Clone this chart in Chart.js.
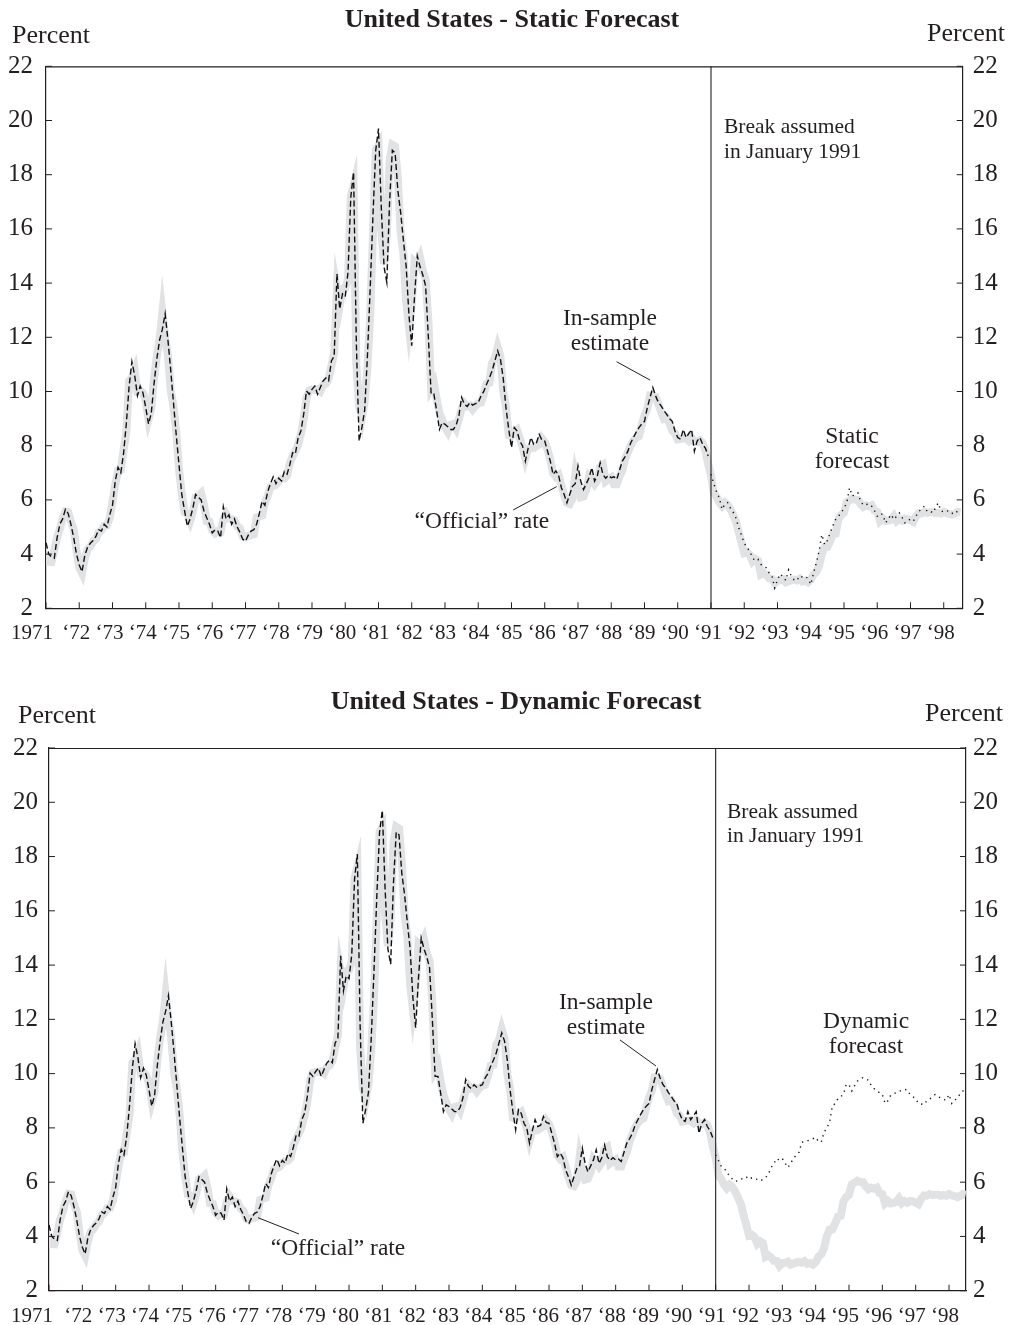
<!DOCTYPE html>
<html>
<head>
<meta charset="utf-8">
<title>United States - Static and Dynamic Forecast</title>
<script src="https://cdn.jsdelivr.net/npm/chart.js@4.4.0/dist/chart.umd.min.js"></script>
<style>
  html, body { margin: 0; padding: 0; background: #ffffff; }
  #wrap { position: relative; width: 1011px; height: 1325px; }
  .panel { position: absolute; left: 0; width: 1011px; }
  canvas { display: block; }
</style>
</head>
<body>
<div id="wrap">
  <div class="panel" style="top:0;height:655px"><canvas id="staticChart" width="1011" height="655"></canvas></div>
  <div class="panel" style="top:655px;height:670px"><canvas id="dynamicChart" width="1011" height="670"></canvas></div>
</div>
<script>
// Monthly series, January 1971 onward (one value per month).
const START_YEAR = 1971;

// "Official" rate, Jan 1971 - Jul 1998
const officialRate = [
  4.00, 3.72, 3.71, 4.15, 4.63, 4.91, 5.31, 5.57, 5.55, 5.20, 4.91, 4.14,
  3.50, 3.29, 3.83, 4.17, 4.27, 4.46, 4.55, 4.80, 4.87, 5.04, 5.06, 5.33,
  5.94, 6.58, 7.09, 7.12, 7.84, 8.49, 10.40, 10.50, 10.78, 10.01, 10.03, 9.95,
  9.65, 8.97, 9.35, 10.51, 11.31, 11.93, 12.92, 12.01, 11.34, 10.06, 9.45, 8.53,
  7.13, 6.24, 5.54, 5.49, 5.22, 5.55, 6.10, 6.14, 6.24, 5.82, 5.22, 5.20,
  4.87, 4.77, 4.84, 4.82, 5.29, 5.48, 5.31, 5.29, 5.25, 5.02, 4.95, 4.65,
  4.61, 4.68, 4.69, 4.73, 5.35, 5.39, 5.42, 5.90, 6.14, 6.47, 6.51, 6.56,
  6.70, 6.78, 6.79, 6.89, 7.36, 7.60, 7.81, 8.04, 8.45, 8.96, 9.76, 10.03,
  10.07, 10.06, 10.09, 10.01, 10.24, 10.29, 10.47, 10.94, 11.43, 13.77, 13.18, 13.78,
  13.82, 14.13, 17.19, 17.61, 10.98, 9.47, 9.03, 9.61, 10.87, 12.81, 15.85, 18.90,
  19.08, 15.93, 14.70, 15.72, 18.52, 19.10, 19.04, 17.82, 15.87, 15.08, 13.31, 12.37,
  13.22, 14.78, 14.68, 14.94, 14.45, 14.15, 12.59, 10.12, 10.31, 9.71, 9.20, 8.95,
  8.68, 8.51, 8.77, 8.80, 8.63, 8.98, 9.37, 9.56, 9.45, 9.48, 9.34, 9.47,
  9.56, 9.59, 9.91, 10.29, 10.32, 11.06, 11.23, 11.64, 11.30, 9.99, 9.43, 8.38,
  8.35, 8.50, 8.58, 8.27, 7.97, 7.53, 7.88, 7.90, 7.92, 7.99, 8.05, 8.27,
  8.14, 7.86, 7.48, 6.99, 6.85, 6.92, 6.56, 6.17, 5.89, 5.85, 6.04, 6.91,
  6.43, 6.10, 6.13, 6.37, 6.85, 6.73, 6.58, 6.73, 7.22, 7.29, 6.69, 6.77,
  6.83, 6.58, 6.58, 6.87, 7.09, 7.51, 7.75, 8.01, 8.19, 8.30, 8.35, 8.76,
  9.12, 9.36, 9.85, 9.84, 9.81, 9.53, 9.24, 8.99, 9.02, 8.84, 8.55, 8.45,
  8.23, 8.24, 8.28, 8.26, 8.18, 8.29, 8.15, 8.13, 8.20, 8.11, 7.81, 7.31,
  6.91, 6.25, 6.12, 5.91, 5.78, 5.90, 5.82, 5.66, 5.45, 5.21, 4.81, 4.43,
  4.03, 4.06, 3.98, 3.73, 3.82, 3.76, 3.25, 3.30, 3.22, 3.10, 3.09, 2.92,
  3.02, 3.03, 3.07, 2.96, 3.00, 3.04, 3.06, 3.03, 3.09, 2.99, 3.02, 2.96,
  3.05, 3.25, 3.34, 3.56, 4.01, 4.25, 4.26, 4.47, 4.73, 4.76, 5.29, 5.45,
  5.53, 5.92, 5.98, 6.05, 6.01, 6.00, 5.85, 5.74, 5.80, 5.76, 5.80, 5.60,
  5.56, 5.22, 5.31, 5.22, 5.24, 5.27, 5.40, 5.22, 5.30, 5.24, 5.31, 5.29,
  5.25, 5.19, 5.39, 5.51, 5.50, 5.56, 5.52, 5.54, 5.54, 5.50, 5.52, 5.50,
  5.56, 5.51, 5.49, 5.45, 5.49, 5.56, 5.54
];

// In-sample estimate, Jan 1971 - Dec 1990
const inSampleEstimate = [
  4.42, 4.00, 3.90, 3.85, 4.60, 5.10, 5.30, 5.65, 5.50, 5.10, 4.60, 4.00,
  3.60, 3.35, 3.95, 4.25, 4.40, 4.50, 4.65, 4.90, 4.85, 5.10, 5.00, 5.45,
  5.80, 6.70, 7.20, 7.00, 7.72, 8.83, 10.20, 11.10, 10.60, 9.85, 10.20, 9.95,
  9.40, 8.80, 9.20, 10.30, 11.20, 11.90, 12.30, 12.87, 11.90, 10.80, 9.60, 8.40,
  7.30, 6.20, 5.60, 5.03, 5.30, 5.70, 6.20, 6.10, 6.00, 5.60, 5.34, 5.10,
  4.78, 4.90, 4.85, 4.60, 5.75, 5.30, 5.45, 5.10, 5.30, 5.00, 4.80, 4.55,
  4.48, 4.70, 4.85, 4.90, 5.10, 5.50, 5.95, 5.80, 6.30, 6.60, 6.85, 6.60,
  6.80, 6.70, 7.05, 6.95, 7.30, 7.74, 7.70, 8.30, 8.54, 9.16, 10.02, 9.90,
  10.08, 10.20, 9.90, 10.15, 10.39, 10.50, 10.40, 11.13, 11.30, 14.34, 13.05, 13.60,
  13.50, 14.40, 17.17, 18.09, 11.80, 8.17, 8.67, 9.30, 11.30, 13.80, 16.50, 18.90,
  19.70, 16.80, 14.60, 14.03, 17.00, 18.90, 18.80, 17.40, 16.60, 15.57, 14.60, 12.80,
  11.69, 13.50, 15.00, 14.60, 14.30, 13.90, 12.00, 9.90, 9.90, 9.28, 8.60, 8.85,
  8.79, 8.70, 8.60, 8.60, 8.75, 9.10, 9.78, 9.53, 9.45, 9.59, 9.50, 9.55,
  9.59, 9.84, 10.00, 10.27, 10.50, 10.76, 11.13, 11.50, 11.20, 10.50, 9.40, 8.60,
  7.93, 8.67, 8.54, 8.17, 7.99, 7.43, 7.90, 8.30, 8.05, 8.10, 8.42, 8.20,
  8.17, 7.80, 7.43, 6.94, 7.07, 6.90, 6.45, 6.20, 5.89, 6.20, 6.50, 6.60,
  7.25, 6.69, 6.38, 6.60, 6.82, 7.19, 6.69, 6.90, 7.37, 6.94, 6.80, 6.90,
  6.82, 6.85, 6.76, 7.10, 7.43, 7.60, 7.80, 8.10, 8.30, 8.50, 8.67, 8.80,
  8.90, 9.40, 9.78, 10.15, 9.84, 9.60, 9.47, 9.30, 9.16, 9.00, 8.90, 8.54,
  8.30, 8.24, 8.60, 8.30, 8.45, 8.60, 7.80, 8.17, 8.30, 8.05, 7.90, 7.62
];

// Static forecast, Jan 1991 - Jul 1998
const staticForecast = [
  6.95, 6.60, 6.30, 6.07, 5.65, 5.85, 5.90, 5.70, 5.55, 5.33, 4.97, 4.70,
  4.40, 4.25, 4.10, 3.86, 3.75, 3.80, 3.62, 3.55, 3.49, 3.30, 3.20, 2.75,
  3.05, 3.27, 3.15, 3.03, 3.42, 3.18, 3.05, 3.02, 3.20, 3.15, 3.18, 3.10,
  2.88, 3.30, 3.67, 4.10, 4.72, 4.35, 4.50, 4.78, 5.05, 5.28, 5.40, 5.52,
  5.70, 5.89, 6.45, 6.14, 6.20, 6.26, 5.95, 5.80, 5.83, 5.85, 5.77, 5.60,
  5.40, 5.50, 5.46, 5.15, 5.30, 5.46, 5.28, 5.40, 5.52, 5.35, 5.15, 5.25,
  5.28, 5.21, 5.40, 5.58, 5.65, 5.77, 5.58, 5.60, 5.52, 5.70, 5.89, 5.60,
  5.55, 5.60, 5.58, 5.50, 5.60, 5.55, 5.50
];

// Dynamic forecast, Jan 1991 - Jul 1998
const dynamicForecast = [
  7.00, 6.80, 6.59, 6.50, 6.40, 6.20, 6.12, 6.03, 6.05, 6.10, 6.15, 6.20,
  6.10, 6.16, 6.12, 6.10, 6.05, 6.10, 6.17, 6.30, 6.54, 6.70, 6.87, 6.80,
  6.87, 6.70, 6.54, 6.70, 6.87, 7.00, 7.10, 7.47, 7.50, 7.52, 7.57, 7.60,
  7.65, 7.50, 7.47, 7.83, 8.00, 8.20, 8.80, 8.90, 9.08, 9.15, 9.23, 9.60,
  9.60, 9.36, 9.55, 9.72, 9.80, 9.85, 9.80, 9.76, 9.56, 9.45, 9.36, 9.30,
  9.23, 8.90, 9.00, 9.20, 9.25, 9.30, 9.35, 9.38, 9.42, 9.40, 9.23, 9.15,
  9.07, 8.90, 8.88, 8.86, 9.00, 9.05, 9.15, 9.23, 9.15, 9.11, 9.05, 9.02,
  9.23, 8.90, 9.00, 9.11, 9.25, 9.36, 9.40
];

const FORECAST_START = 240;   // month index of January 1991
const BREAK_YEAR = 1991;

const yearTickLabels = [
  '1971', '\u201872', '\u201873', '\u201874', '\u201875', '\u201876', '\u201877',
  '\u201878', '\u201879', '\u201880', '\u201881', '\u201882', '\u201883', '\u201884',
  '\u201885', '\u201886', '\u201887', '\u201888', '\u201889', '\u201890', '\u201891',
  '\u201892', '\u201893', '\u201894', '\u201895', '\u201896', '\u201897', '\u201898'
];

const SERIF = '"Liberation Serif", "Times New Roman", Times, serif';
const INK = '#231f20';

function monthlyPoints(values, offset) {
  return values.map((v, i) => ({ x: START_YEAR + (offset + i) / 12, y: v }));
}

// Frame, inward tick marks, year labels, break line and the text notes of a panel.
const panelDecor = {
  id: 'panelDecor',
  afterDatasetsDraw(chart, args, o) {
    const { ctx, chartArea: a, scales } = chart;
    const sx = scales.x, sy = scales.y;
    ctx.save();
    ctx.strokeStyle = INK;
    ctx.lineWidth = 1.2;
    ctx.beginPath();
    ctx.moveTo(a.left, a.top + 0.5);
    ctx.lineTo(a.right, a.top + 0.5);
    ctx.stroke();

    // tick marks pointing into the plot
    ctx.lineWidth = 1;
    ctx.beginPath();
    sx.ticks.forEach(t => {
      const px = sx.getPixelForValue(t.value);
      ctx.moveTo(px, a.bottom);
      ctx.lineTo(px, a.bottom - 6);
    });
    sy.ticks.forEach(t => {
      const py = sy.getPixelForValue(t.value);
      ctx.moveTo(a.left, py);
      ctx.lineTo(a.left + 6, py);
      ctx.moveTo(a.right, py);
      ctx.lineTo(a.right - 6, py);
    });
    ctx.stroke();

    // year labels under the x axis ticks; the first one sits left of its tick
    ctx.fillStyle = INK;
    ctx.textBaseline = 'middle';
    ctx.font = '21px ' + SERIF;
    sx.ticks.forEach((t, k) => {
      const px = sx.getPixelForValue(t.value);
      const label = yearTickLabels[Math.round(t.value) - START_YEAR];
      if (k === 0) {
        ctx.textAlign = 'right';
        ctx.fillText(label, px + o.firstYearRight, a.bottom + o.yearLabelDrop);
      } else {
        ctx.textAlign = 'center';
        ctx.fillText(label, px + o.yearLabelShift, a.bottom + o.yearLabelDrop);
      }
    });

    // structural break
    const bx = sx.getPixelForValue(BREAK_YEAR);
    ctx.lineWidth = 1.1;
    ctx.beginPath();
    ctx.moveTo(bx, a.top);
    ctx.lineTo(bx, a.bottom);
    ctx.stroke();

    // leader lines
    ctx.lineWidth = 1;
    o.leaders.forEach(l => {
      ctx.beginPath();
      ctx.moveTo(sx.getPixelForValue(l[0]), sy.getPixelForValue(l[1]));
      ctx.lineTo(sx.getPixelForValue(l[2]), sy.getPixelForValue(l[3]));
      ctx.stroke();
    });

    // notes inside the plot
    o.notes.forEach(n => {
      ctx.font = n.size + 'px ' + SERIF;
      ctx.textAlign = n.align;
      const px = sx.getPixelForValue(n.x);
      const py = sy.getPixelForValue(n.y);
      n.lines.forEach((s, k) => ctx.fillText(s, px, py + k * n.lineGap));
    });

    // title and unit labels
    ctx.font = 'bold 26px ' + SERIF;
    ctx.textAlign = 'center';
    ctx.fillText(o.title, o.titleX, o.titleY);
    ctx.font = '26px ' + SERIF;
    ctx.textAlign = 'left';
    ctx.fillText('Percent', o.unitLeft[0], o.unitLeft[1]);
    ctx.textAlign = 'right';
    ctx.fillText('Percent', o.unitRight[0], o.unitRight[1]);
    ctx.restore();
  }
};

function makePanel(cfg) {
  const datasets = [
    {
      label: 'In-sample estimate',
      data: monthlyPoints(inSampleEstimate, 0),
      borderColor: '#111111',
      borderWidth: 1.4,
      borderDash: [6, 3],
      pointRadius: 0,
      order: 1
    },
    {
      label: cfg.forecastLabel,
      data: monthlyPoints(cfg.forecast, FORECAST_START),
      borderColor: '#111111',
      borderWidth: 1.4,
      borderDash: [1.3, 4.4],
      pointRadius: 0,
      order: 2
    },
    {
      label: '\u201cOfficial\u201d rate',
      data: monthlyPoints(officialRate, 0),
      borderColor: '#e1e2e4',
      borderWidth: 8,
      borderJoinStyle: 'miter',
      pointRadius: 0,
      order: 3
    }
  ];

  const yTicks = (pad) => ({
    stepSize: 2,
    padding: pad,
    color: INK,
    font: { family: SERIF, size: 25 }
  });

  return new Chart(document.getElementById(cfg.canvas), {
    type: 'line',
    data: { datasets },
    plugins: [panelDecor],
    options: {
      responsive: false,
      animation: false,
      devicePixelRatio: 1,
      layout: { padding: { top: cfg.areaTop, left: 0, right: 0, bottom: 0 } },
      elements: { line: { tension: 0, fill: false } },
      plugins: {
        legend: { display: false },
        title: { display: false },
        tooltip: { enabled: false },
        panelDecor: cfg.decor
      },
      scales: {
        x: {
          type: 'linear',
          position: 'bottom',
          min: START_YEAR,
          max: cfg.xMax,
          grid: { display: false, drawTicks: false },
          border: { display: true, color: INK, width: 1.2 },
          afterFit: s => { s.height = cfg.height - cfg.areaBottom; },
          ticks: {
            display: false,
            stepSize: 1,
            includeBounds: false,
            autoSkip: false,
            maxRotation: 0,
            minRotation: 0
          }
        },
        y: {
          position: 'left',
          min: 2,
          max: 22,
          grid: { display: false, drawTicks: false },
          border: { display: true, color: INK, width: 1.2 },
          afterFit: s => { s.width = cfg.areaLeft; },
          ticks: yTicks(cfg.yLeftPad)
        },
        y2: {
          position: 'right',
          min: 2,
          max: 22,
          grid: { display: false, drawTicks: false },
          border: { display: true, color: INK, width: 1.2 },
          afterFit: s => { s.width = 1011 - cfg.areaRight; },
          ticks: yTicks(cfg.yRightPad)
        }
      }
    }
  });
}

makePanel({
  canvas: 'staticChart',
  height: 655,
  areaTop: 66.3,
  areaBottom: 608.3,
  areaLeft: 46,
  areaRight: 962.7,
  xMax: 1998.57,
  yLeftPad: 13,
  yRightPad: 10,
  forecast: staticForecast,
  forecastLabel: 'Static forecast',
  decor: {
    title: 'United States - Static Forecast',
    titleX: 512, titleY: 20,
    unitLeft: [12, 36], unitRight: [1005, 34],
    yearLabelDrop: 25, yearLabelShift: -3, firstYearRight: 7,
    leaders: [
      [1988.16, 11.10, 1989.17, 10.42],
      [1985.05, 5.63, 1986.36, 6.49]
    ],
    notes: [
      { x: 1987.96, y: 12.70, lines: ['In-sample', 'estimate'], lineGap: 25, size: 23.5, align: 'center' },
      { x: 1984.11, y: 5.18, lines: ['\u201cOfficial\u201d rate'], lineGap: 25, size: 23.5, align: 'center' },
      { x: 1995.24, y: 8.33, lines: ['Static', 'forecast'], lineGap: 25, size: 23.5, align: 'center' },
      { x: 1991.39, y: 19.73, lines: ['Break assumed', 'in January 1991'], lineGap: 25, size: 21.5, align: 'left' }
    ]
  }
});

makePanel({
  canvas: 'dynamicChart',
  height: 670,
  areaTop: 93,
  areaBottom: 635.7,
  areaLeft: 49,
  areaRight: 966,
  xMax: 1998.51,
  yLeftPad: 11,
  yRightPad: 7,
  forecast: dynamicForecast,
  forecastLabel: 'Dynamic forecast',
  decor: {
    title: 'United States - Dynamic Forecast',
    titleX: 516, titleY: 47,
    unitLeft: [18, 61], unitRight: [1003, 59],
    yearLabelDrop: 26, yearLabelShift: -4, firstYearRight: 4,
    leaders: [
      [1988.13, 11.24, 1989.21, 10.28],
      [1977.27, 4.69, 1978.50, 4.09]
    ],
    notes: [
      { x: 1987.71, y: 12.60, lines: ['In-sample', 'estimate'], lineGap: 25, size: 23.5, align: 'center' },
      { x: 1979.67, y: 3.54, lines: ['\u201cOfficial\u201d rate'], lineGap: 25, size: 23.5, align: 'center' },
      { x: 1995.51, y: 11.90, lines: ['Dynamic', 'forecast'], lineGap: 25, size: 23.5, align: 'center' },
      { x: 1991.34, y: 19.64, lines: ['Break assumed', 'in January 1991'], lineGap: 24, size: 21.5, align: 'left' }
    ]
  }
});
</script>
</body>
</html>
